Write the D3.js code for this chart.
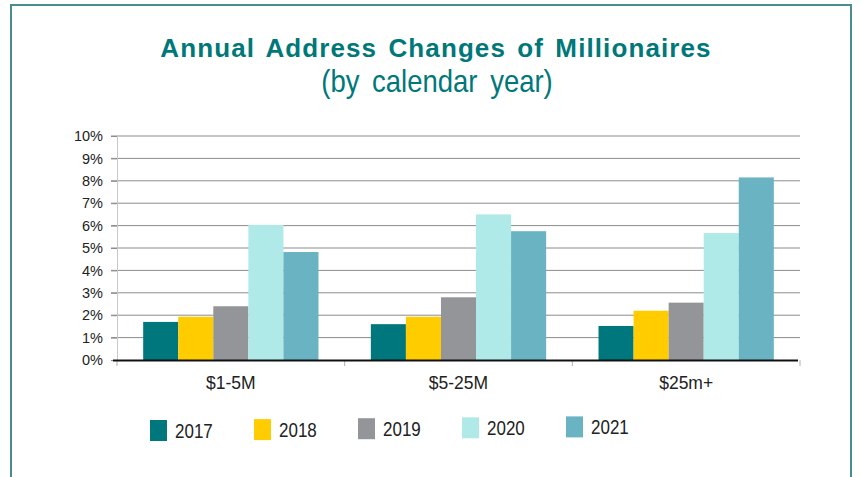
<!DOCTYPE html>
<html>
<head>
<meta charset="utf-8">
<script src="https://cdn.jsdelivr.net/npm/d3@7"></script>
<style>
  body { margin: 0; background: #fff; }
  svg { display: block; font-family: "Liberation Sans", Arial, sans-serif; }
</style>
</head>
<body>
<div class="chart"></div>
<script>
// --- data
var categories = ['$1-5M', '$5-25M', '$25m+'];
var years = ['2017', '2018', '2019', '2020', '2021'];
var values2017 = [1.7, 1.6, 1.52];
var values2018 = [1.93, 1.93, 2.2];
var values2019 = [2.4, 2.8, 2.56];
var values2020 = [6.03, 6.5, 5.67];
var values2021 = [4.82, 5.75, 8.15];
var yTicks = [0, 1, 2, 3, 4, 5, 6, 7, 8, 9, 10];
var colors = ['#00777d', '#ffcc00', '#939598', '#afeae8', '#69b3c2'];

var series = [values2017, values2018, values2019, values2020, values2021];

var width = 862, height = 477;
var svg = d3.select('.chart').append('svg')
  .attr('width', width)
  .attr('height', height);

// outer frame
svg.append('rect')
  .attr('x', 11).attr('y', 5)
  .attr('width', 840).attr('height', 500)
  .attr('fill', 'none')
  .attr('stroke', '#4b8c8e')
  .attr('stroke-width', 2);

// titles
svg.append('text')
  .attr('x', 436).attr('y', 57)
  .attr('text-anchor', 'middle')
  .attr('font-size', 26).attr('font-weight', 'bold')
  .attr('letter-spacing', 1.1).attr('word-spacing', 3)
  .attr('fill', '#00787a')
  .text('Annual Address Changes of Millionaires');
svg.append('text')
  .attr('transform', 'translate(437,92) scale(1,1.12)')
  .attr('text-anchor', 'middle')
  .attr('font-size', 27.5).attr('word-spacing', 5)
  .attr('fill', '#00787a')
  .text('(by calendar year)');

var plot = { left: 117, right: 800, top: 136, bottom: 360 };

var x0 = d3.scaleBand()
  .domain(categories)
  .range([plot.left, plot.right])
  .paddingInner(0.23).paddingOuter(0.115);
var x1 = d3.scaleBand()
  .domain(years)
  .range([0, x0.bandwidth()]);
var y = d3.scaleLinear()
  .domain([0, 10])
  .range([plot.bottom, plot.top]);

// gridlines
svg.append('g')
  .selectAll('line')
  .data(yTicks.slice(1))
  .enter().append('line')
  .attr('x1', plot.left - 6).attr('x2', plot.right)
  .attr('y1', function(d) { return y(d); })
  .attr('y2', function(d) { return y(d); })
  .attr('stroke', '#8c8c8c').attr('stroke-width', 1);

// y axis
var yAxis = svg.append('g')
  .attr('transform', 'translate(' + plot.left + ',0)')
  .call(d3.axisLeft(y).tickValues(yTicks).tickSize(6).tickPadding(8)
    .tickFormat(function(d) { return d + '%'; }));
yAxis.select('.domain').attr('stroke', '#c8c8c8');
yAxis.selectAll('.tick line').attr('stroke', '#8c8c8c');
yAxis.selectAll('text').attr('font-size', 14.5).attr('fill', '#222')
  .attr('font-family', '"Liberation Sans", Arial, sans-serif');

// bars
var groups = svg.append('g')
  .selectAll('g')
  .data(categories)
  .enter().append('g')
  .attr('transform', function(d) { return 'translate(' + x0(d) + ',0)'; });

groups.selectAll('rect')
  .data(function(d, i) {
    return years.map(function(yr, j) { return { year: yr, value: series[j][i], k: j }; });
  })
  .enter().append('rect')
  .attr('x', function(d) { return x1(d.year); })
  .attr('width', x1.bandwidth())
  .attr('y', function(d) { return y(d.value); })
  .attr('height', function(d) { return plot.bottom - y(d.value); })
  .attr('fill', function(d) { return colors[d.k]; });

// x axis
var xAxis = svg.append('g')
  .attr('transform', 'translate(0,' + plot.bottom + ')')
  .call(d3.axisBottom(x0).tickSize(0).tickPadding(17));
xAxis.select('.domain').remove();
xAxis.selectAll('text').attr('font-size', 17.5).attr('fill', '#222')
  .attr('font-family', '"Liberation Sans", Arial, sans-serif');

// category boundary ticks
var bounds = [plot.left].concat(categories.map(function(c) {
  return x0(c) + x0.bandwidth() + x0.step() * x0.paddingInner() / 2;
}));
svg.append('g').selectAll('line')
  .data(bounds)
  .enter().append('line')
  .attr('x1', function(d) { return d; }).attr('x2', function(d) { return d; })
  .attr('y1', plot.bottom).attr('y2', plot.bottom + 6)
  .attr('stroke', '#b0b0b0');

svg.append('line')
  .attr('x1', plot.left - 4).attr('x2', plot.right - 2)
  .attr('y1', plot.bottom + 0.5).attr('y2', plot.bottom + 0.5)
  .attr('stroke', '#111').attr('stroke-width', 2);

// legend
var legend = svg.append('g')
  .selectAll('g')
  .data(years)
  .enter().append('g')
  .attr('transform', function(d, i) { return 'translate(' + (150 + i * 104) + ',' + (420 - i * 0.9) + ')'; });
legend.append('rect')
  .attr('width', 17).attr('height', 21)
  .attr('fill', function(d, i) { return colors[i]; });
legend.append('text')
  .attr('transform', 'translate(25,18) scale(1,1.15)')
  .attr('font-size', 17).attr('fill', '#222')
  .text(function(d) { return d; });
</script>
</body>
</html>
